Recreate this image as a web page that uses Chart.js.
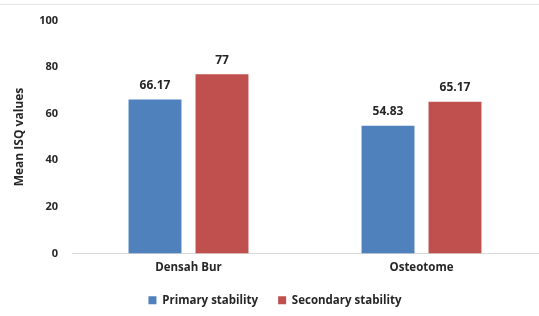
<!DOCTYPE html>
<html><head><meta charset="utf-8">
<script src="https://cdn.jsdelivr.net/npm/chart.js@4.4.0/dist/chart.umd.min.js"></script>
<style>html,body{margin:0;padding:0;background:#fff;}#wrap{width:539px;height:316px;position:relative;}
#topline{position:absolute;left:0;top:4px;width:539px;height:1px;background:#e6e6e6;}</style>
</head><body>
<div id="wrap"><canvas id="c" width="539" height="316"></canvas><div id="topline"></div></div>
<script>
const categories = ["Densah Bur", "Osteotome"];
const primaryStability = [66.17, 54.83];
const secondaryStability = [77, 65.17];
const primaryLabels = ["66.17", "54.83"];
const secondaryLabels = ["77", "65.17"];
const yTicks = [0, 20, 40, 60, 80, 100];

const FONT = "'Open Sans', 'Liberation Sans', sans-serif";

const valueLabels = {
  id: 'valueLabels',
  afterDatasetsDraw(chart) {
    const ctx = chart.ctx;
    ctx.save();
    ctx.font = "bold 12px " + FONT;
    ctx.fillStyle = '#262626';
    ctx.textAlign = 'center';
    ctx.textBaseline = 'middle';
    const labelSets = [primaryLabels, secondaryLabels];
    chart.data.datasets.forEach((ds, i) => {
      chart.getDatasetMeta(i).data.forEach((bar, j) => {
        ctx.fillText(labelSets[i][j], bar.x, bar.y - 14);
      });
    });
    ctx.restore();
  }
};

new Chart(document.getElementById('c'), {
  type: 'bar',
  data: {
    labels: categories,
    datasets: [
      { label: 'Primary stability', data: primaryStability, backgroundColor: '#4f81bd', borderWidth: 0 },
      { label: 'Secondary stability', data: secondaryStability, backgroundColor: '#c0504d', borderWidth: 0 }
    ]
  },
  options: {
    responsive: false,
    animation: false,
    devicePixelRatio: 1,
    layout: { padding: { left: 12, right: 1, top: 12, bottom: 0 } },
    datasets: { bar: { categoryPercentage: 0.575, barPercentage: 0.79 } },
    plugins: {
      tooltip: { enabled: false },
      legend: {
        position: 'bottom',
        labels: {
          font: { family: FONT, size: 11.5, weight: 'bold' },
          color: '#262626',
          boxWidth: 8, boxHeight: 8,
          padding: 20
        }
      }
    },
    scales: {
      x: {
        afterFit(scale) { scale.height = 21; },
        grid: { display: false, drawTicks: false },
        border: { display: true, color: '#d9d9d9', width: 1 },
        ticks: { font: { family: FONT, size: 11.5, weight: 'bold' }, color: '#262626', padding: 7 }
      },
      y: {
        min: 0, max: 100,
        afterBuildTicks(scale) { scale.ticks = yTicks.map(v => ({ value: v })); },
        afterFit(scale) { scale.width = 60; },
        grid: { display: false, drawTicks: false },
        border: { display: false },
        ticks: { font: { family: FONT, size: 11, weight: 'bold' }, color: '#262626', padding: 14 },
        title: { display: true, text: 'Mean ISQ values', font: { family: FONT, size: 12, weight: 'bold' }, color: '#262626', padding: 0 }
      }
    }
  },
  plugins: [valueLabels]
});
</script>
</body></html>
